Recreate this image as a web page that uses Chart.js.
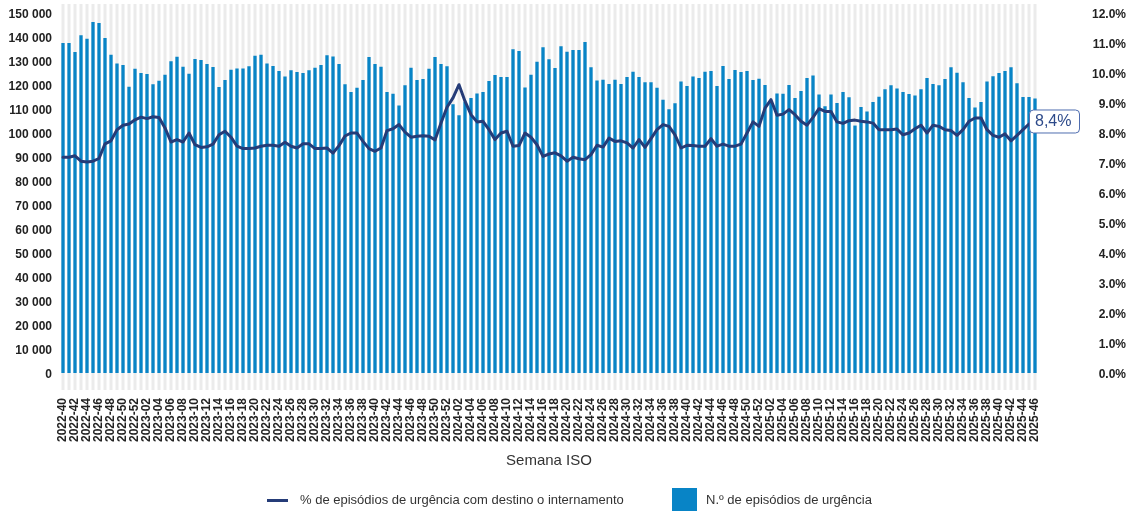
<!DOCTYPE html>
<html><head><meta charset="utf-8">
<script src="https://cdn.jsdelivr.net/npm/chart.js@4.4.1/dist/chart.umd.min.js"></script>
<style>
html,body{margin:0;padding:0;background:#fff;}
#wrap{position:relative;width:1134px;height:511px;overflow:hidden;}
canvas{position:absolute;left:0;top:0;}
.lg{position:absolute;font-family:"Liberation Sans",Arial,sans-serif;font-size:13px;line-height:13px;color:#333;white-space:nowrap;}
</style></head><body>
<div id="wrap"><canvas id="c" width="1134" height="511"></canvas>
<div style="position:absolute;left:267px;top:499px;width:21px;height:3px;background:#253c78"></div>
<div class="lg" style="left:300px;top:493px">% de episódios de urgência com destino o internamento</div>
<div style="position:absolute;left:672px;top:488px;width:25px;height:25px;background:#0884c6"></div>
<div class="lg" style="left:706px;top:493px">N.º de episódios de urgência</div>
</div>
<script>
// ISO week categories 2022-40 .. 2025-46
const yearSegments = [[2022, 40, 52], [2023, 1, 52], [2024, 1, 52], [2025, 1, 46]];
const weeks = [];
yearSegments.forEach(([y, a, b]) => { for (let w = a; w <= b; w++) weeks.push(y + '-' + String(w).padStart(2, '0')); });

const episodes = [
137500,137500,133800,140700,139300,146200,145800,139600,132600,129000,128300,119300,126800,
125000,124600,120300,121800,124300,129900,131800,127600,124700,130800,130400,128700,127500,119200,122100,126400,126900,126900,127800,132200,
132600,129000,127900,125800,123500,126100,125400,125000,126100,127200,128300,132400,131900,128700,120300,117100,118900,122100,131700,128700,127600,117100,116400,111500,119900,127200,122100,122500,126800,131700,128700,127800,
112000,107400,113000,114600,116500,117100,121700,124200,123300,123300,134900,134200,119000,124300,129700,135700,130700,127100,136100,133900,134600,134600,137900,127400,121900,122200,120400,122200,120400,123300,125500,123300,
121100,121100,118900,113900,109900,112400,121500,119600,123500,122900,125500,125800,119600,127900,122500,126200,125400,125800,122100,122600,120000,113300,116500,
116400,120000,114600,117500,122900,124000,116000,111100,116000,112500,117100,114900,103100,110800,109000,112900,115100,118200,119900,118500,117100,116200,115600,118200,122900,120400,119900,122500,127400,125100,121100,114600,110600,112900,121500,123600,125000,125800,127400,120700,115000,115000,114400
];

const pctAdmitted = [
7.19,7.19,7.24,7.06,7.03,7.06,7.15,7.64,7.74,8.11,8.26,8.30,8.44,
8.53,8.48,8.54,8.52,8.17,7.70,7.78,7.70,8.00,7.61,7.52,7.54,7.63,7.94,8.06,7.86,7.56,7.48,7.48,7.50,
7.56,7.59,7.59,7.56,7.69,7.56,7.50,7.64,7.64,7.48,7.48,7.50,7.33,7.58,7.90,8.00,8.00,7.72,7.48,7.39,7.50,8.08,8.14,8.28,8.03,7.86,7.89,7.91,7.89,7.77,8.33,8.86,
9.17,9.61,9.06,8.61,8.37,8.39,8.11,7.78,8.00,8.06,7.56,7.58,8.00,7.86,7.61,7.22,7.30,7.34,7.24,7.06,7.19,7.14,7.11,7.28,7.59,7.53,7.83,7.72,7.74,7.67,7.50,7.78,
7.52,7.81,8.11,8.28,8.22,7.94,7.50,7.59,7.58,7.56,7.56,7.81,7.56,7.63,7.56,7.56,7.63,8.00,8.37,8.22,8.83,9.11,8.59,
8.63,8.78,8.61,8.39,8.26,8.52,8.81,8.72,8.72,8.37,8.32,8.41,8.43,8.39,8.37,8.33,8.11,8.11,8.11,8.13,7.94,8.00,8.14,8.26,8.00,8.26,8.22,8.11,8.08,7.92,8.11,8.39,8.50,8.50,8.11,7.92,7.86,7.97,7.74,7.92,8.11,8.30,8.40
];

const leftTicks = [0,10000,20000,30000,40000,50000,60000,70000,80000,90000,100000,110000,120000,130000,140000,150000];
const rightTicks = [0,1,2,3,4,5,6,7,8,9,10,11,12];
const lastValueLabel = '8,4%';

const Y_MIN = -7083, Y_MAX = 153750;
const R_MIN = -0.5667, R_MAX = 12.3;
const BLUE = '#0884c6', NAVY = '#253c78', GRAY = '#ebebeb';
const FONT = '"Liberation Sans", Arial, sans-serif';

const fmtThousands = v => String(v).replace(/\B(?=(\d{3})+(?!\d))/g, ' ');

const lastLabel = {
  id: 'lastLabel',
  afterDatasetsDraw(chart) {
    const meta = chart.getDatasetMeta(0);
    const pt = meta.data[meta.data.length - 1];
    const ctx = chart.ctx;
    const x = pt.x - 6, y = pt.y - 11.5, w = 50, h = 23;
    ctx.save();
    ctx.beginPath();
    if (ctx.roundRect) ctx.roundRect(x + 0.5, y + 0.5, w, h, 4); else ctx.rect(x + 0.5, y + 0.5, w, h);
    ctx.fillStyle = '#fff'; ctx.fill();
    ctx.lineWidth = 1; ctx.strokeStyle = '#4f6db0'; ctx.stroke();
    ctx.fillStyle = '#2d4a8a';
    ctx.font = '16px ' + FONT;
    ctx.textAlign = 'left'; ctx.textBaseline = 'middle';
    ctx.fillText(lastValueLabel, x + 6, pt.y + 1);
    ctx.restore();
  }
};

new Chart(document.getElementById('c'), {
  data: {
    labels: weeks,
    datasets: [
      { type: 'line', label: '% de episódios de urgência com destino o internamento', data: pctAdmitted, yAxisID: 'y1',
        borderColor: NAVY, borderWidth: 3, pointRadius: 0, tension: 0, order: 0, borderJoinStyle: 'round', borderCapStyle: 'round' },
      { type: 'bar', label: 'N.º de episódios de urgência', data: episodes, yAxisID: 'y',
        backgroundColor: BLUE, barPercentage: 0.55, categoryPercentage: 1, grouped: false, order: 1 },
      { type: 'bar', label: 'bg', data: weeks.map(() => [Y_MIN, Y_MAX]), yAxisID: 'y',
        backgroundColor: GRAY, barPercentage: 0.5, categoryPercentage: 1, grouped: false, order: 2 }
    ]
  },
  options: {
    responsive: false, animation: false,
    layout: { padding: { top: 4, left: 0, right: 8, bottom: 41 } },
    plugins: { legend: { display: false }, tooltip: { enabled: false } },
    scales: {
      x: {
        offset: true,
        grid: { display: false, drawTicks: false }, border: { display: false },
        ticks: { autoSkip: false, maxRotation: 90, minRotation: 90, padding: 8, color: '#222',
          font: { family: FONT, size: 12, weight: 'bold' },
          callback: (v, i) => (i % 2 === 0 ? weeks[i] : '') },
        title: { display: true, text: 'Semana ISO', color: '#333', font: { family: FONT, size: 15 }, padding: { top: 4, bottom: 0 } },
        afterFit: a => { a.height = 80; a.paddingLeft = 0; a.paddingRight = 0; }
      },
      y: {
        position: 'left', min: Y_MIN, max: Y_MAX,
        grid: { display: false, drawTicks: false }, border: { display: false },
        ticks: { padding: 8, labelOffset: 2, color: '#222', font: { family: FONT, size: 12, weight: 'bold' }, callback: v => fmtThousands(v) },
        afterBuildTicks: a => { a.ticks = leftTicks.map(v => ({ value: v })); },
        afterFit: a => { a.width = 60; a.paddingTop = 0; a.paddingBottom = 0; }
      },
      y1: {
        position: 'right', min: R_MIN, max: R_MAX,
        grid: { display: false, drawTicks: false }, border: { display: false },
        ticks: { crossAlign: 'far', labelOffset: 2, color: '#222', font: { family: FONT, size: 12, weight: 'bold' }, callback: v => v.toFixed(1) + '%' },
        afterBuildTicks: a => { a.ticks = rightTicks.map(v => ({ value: v })); },
        afterFit: a => { a.width = 88; a.paddingTop = 0; a.paddingBottom = 0; }
      }
    }
  },
  plugins: [lastLabel]
});
</script>
</body></html>
